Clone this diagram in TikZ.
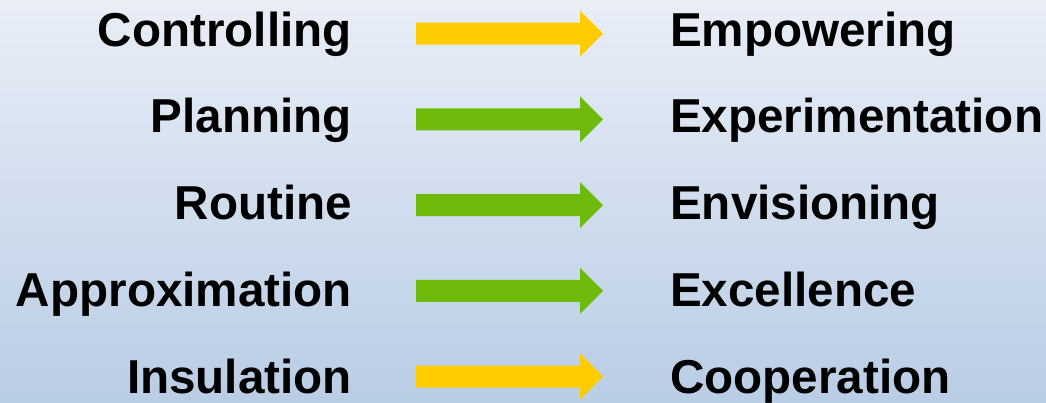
\documentclass[tikz,border=0pt]{standalone}
\usepackage{fontspec}
\setmainfont{Liberation Sans}
\definecolor{bgtop}{HTML}{E9EEF7}
\definecolor{bgbot}{HTML}{B9CDE5}
\definecolor{arryel}{HTML}{FFCC00}
\definecolor{arrgrn}{HTML}{6EBA0A}
\tikzset{
  lbl/.style={font=\fontsize{47.6}{50}\selectfont\bfseries, inner sep=0pt, text=black},
  lft/.style={lbl, anchor=base east},
  rgt/.style={lbl, anchor=base west},
}
\newcommand{\blockarrow}[2]{%
  \fill[#2] (416,#1-11) -- (580,#1-11) -- (580,#1-23) -- (603,#1) -- (580,#1+23) -- (580,#1+11) -- (416,#1+11) -- cycle;}
\begin{document}
\begin{tikzpicture}[x=1pt,y=-1pt]
\shade[top color=bgtop, bottom color=bgbot] (0,0) rectangle (1046,402);
\useasboundingbox (0,0) rectangle (1046,402);
\foreach \c/\b/\l/\r/\col [count=\i] in {33.7/46/Controlling/Empowering/arryel,
  119.4/132.7/Planning/Experimentation/arrgrn,
  205.1/219.5/Routine/Envisioning/arrgrn,
  290.8/306.3/Approximation/Excellence/arrgrn,
  376.5/393/Insulation/Cooperation/arryel}{
  \node[lft] (l\i) at (352,\b) {\l};
  \node[rgt] (r\i) at (670,\b) {\r};
  \blockarrow{\c}{\col}
}
\end{tikzpicture}
\end{document}
